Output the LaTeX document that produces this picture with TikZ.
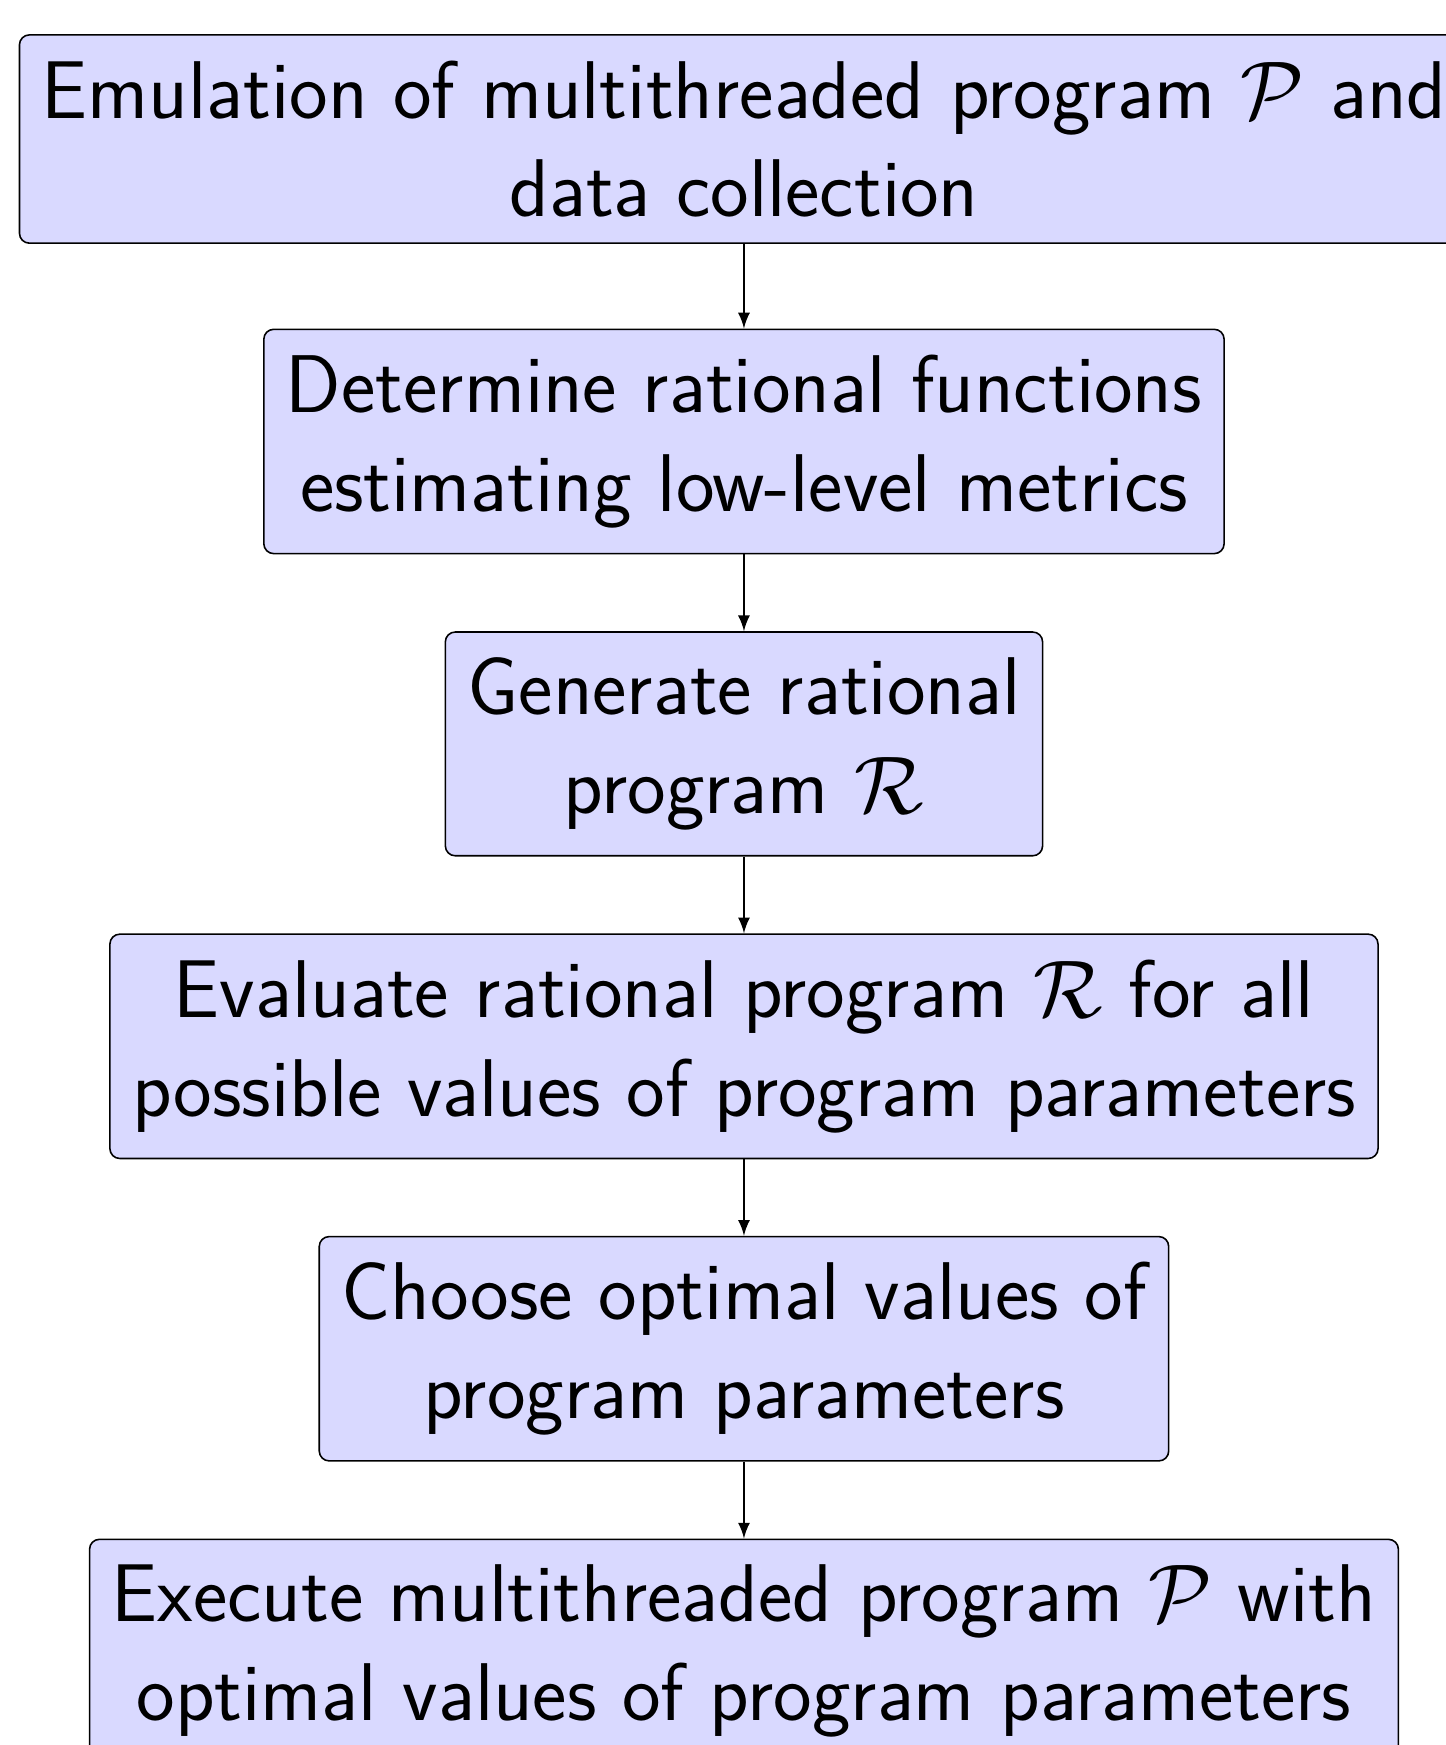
\documentclass[tikz,border=0pt]{standalone}
\usepackage{amssymb}
\usepackage{amsmath}
\usetikzlibrary{shapes,arrows,positioning}
\tikzstyle{stage} = [draw=black, fill=blue!15, rounded corners=2.5pt, inner xsep=5.6pt, inner ysep=6.5pt, align=center, font=\huge\sffamily]
\tikzstyle{arrow} = [->,>=latex]

\begin{document}
\begin{tikzpicture}[node distance=2.691cm, on grid]
        % Bounding box
        \useasboundingbox (-6.62,1.237) rectangle (6.245,-14.29);

        % Nodes
        \node[stage] (emul) at (0,0) {Emulation of multithreaded program $\mathcal{P}$ and\\data collection};
        \node[stage, below=of emul] (ratfun) {Determine rational functions\\estimating low-level metrics};
        \node[stage, below=of ratfun] (gen) {Generate rational\\program $\mathcal{R}$};
        \node[stage, below=of gen] (eval) {Evaluate rational program $\mathcal{R}$ for all\\possible values of program parameters};
        \node[stage, below=of eval] (choose) {Choose optimal values of\\program parameters};
        \node[stage, below=of choose] (exec) {Execute multithreaded program $\mathcal{P}$ with\\optimal values of program parameters};

        % Edges
        \draw[arrow] (emul) -- (ratfun);
        \draw[arrow] (ratfun) -- (gen);
        \draw[arrow] (gen) -- (eval);
        \draw[arrow] (eval) -- (choose);
        \draw[arrow] (choose) -- (exec);

    \end{tikzpicture}
\end{document}
